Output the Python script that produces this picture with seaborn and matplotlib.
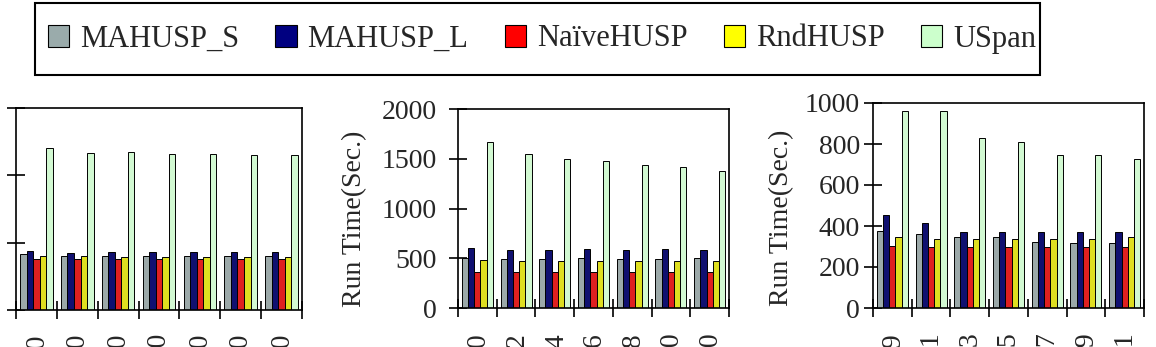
import numpy as np
import pandas as pd
import matplotlib
matplotlib.use("Agg")
import matplotlib.pyplot as plt
import seaborn as sns
from matplotlib.patches import Patch, Rectangle

sns.set_style("white")
plt.rcParams["font.family"] = ["Liberation Serif", "DejaVu Serif"]

# Datos
algos = ["MAHUSP_S", "MAHUSP_L", "NaïveHUSP", "RndHUSP", "USpan"]
colors = ["#9aabab", "#000080", "#ff0000", "#ffff00", "#ccffcc"]

labels_1 = ["100", "200", "300", "400", "500", "600", "700"]
labels_2 = ["10", "12", "14", "16", "18", "20", "30"]
labels_3 = ["19", "21", "23", "25", "27", "29", "31"]

p1_mahusp_s = [416, 404, 404, 404, 404, 404, 404]
p1_mahusp_l = [439, 426, 431, 431, 431, 431, 431]
p1_naive = [377, 382, 377, 377, 377, 377, 377]
p1_rnd = [402, 404, 397, 397, 397, 392, 392]
p1_uspan = [1202, 1165, 1173, 1158, 1158, 1153, 1153]

p2_mahusp_s = [502, 496, 496, 502, 496, 496, 502]
p2_mahusp_l = [603, 586, 586, 596, 586, 596, 586]
p2_naive = [362, 362, 362, 362, 362, 362, 362]
p2_rnd = [479, 469, 469, 469, 469, 469, 469]
p2_uspan = [1672, 1551, 1497, 1474, 1437, 1417, 1373]

p3_mahusp_s = [376, 360, 347, 347, 324, 319, 316]
p3_mahusp_l = [452, 413, 373, 373, 373, 373, 373]
p3_naive = [303, 300, 300, 300, 300, 300, 300]
p3_rnd = [348, 335, 339, 339, 339, 339, 344]
p3_uspan = [963, 959, 828, 809, 746, 746, 728]


def to_long(labels, series):
    rows = []
    for algo, vals in zip(algos, series):
        for lab, v in zip(labels, vals):
            rows.append({"param": lab, "algo": algo, "time": v})
    return pd.DataFrame(rows)


panels = [
    (to_long(labels_1, [p1_mahusp_s, p1_mahusp_l, p1_naive, p1_rnd, p1_uspan]),
     labels_1, 1500, 500, (16, 302, 108, 310), 8.5, (-0.34, 0.45)),
    (to_long(labels_2, [p2_mahusp_s, p2_mahusp_l, p2_naive, p2_rnd, p2_uspan]),
     labels_2, 2000, 500, (458, 729, 109, 308), 8.5, (-0.335, 0.45)),
    (to_long(labels_3, [p3_mahusp_s, p3_mahusp_l, p3_naive, p3_rnd, p3_uspan]),
     labels_3, 1000, 200, (873, 1144, 103, 308), 3.0, (-0.291, 0.44)),
]

W, H = 1156, 347
fig = plt.figure(figsize=(W / 100, H / 100), dpi=100)

for data, labels, ymax, ystep, (x0, x1, top, bottom), ypad, lab_xy in panels:
    ax = fig.add_axes([x0 / W, 1 - bottom / H, (x1 - x0) / W, (bottom - top) / H])
    sns.barplot(data=data, x="param", y="time", hue="algo", hue_order=algos,
                palette=colors, edgecolor="black", linewidth=0.7,
                width=0.8, legend=False, ax=ax)
    ax.set_xlim(-0.5, 6.5)
    ax.set_ylim(0, ymax)
    ax.set_yticks(np.arange(0, ymax + 1, ystep))
    ax.set_xticks(np.arange(-0.5, 7, 1))
    ax.set_xticklabels([])
    ax.set_xticks(range(7), labels, minor=True)
    ax.tick_params(axis="x", which="major", direction="inout", length=13,
                   width=1.2, color="black", bottom=True)
    ax.tick_params(axis="x", which="minor", length=0, pad=16.5,
                   labelrotation=90, labelsize=20)
    ax.tick_params(axis="y", direction="inout", length=13, width=1.2,
                   color="black", pad=ypad, labelsize=20, left=True)
    ax.set_xlabel("")
    ax.set_ylabel("Run Time(Sec.)", fontsize=20)
    ax.yaxis.set_label_coords(*lab_xy)
    for s in ax.spines.values():
        s.set_visible(True)
        s.set_color("black")
        s.set_linewidth(1.2)

# Leyenda común
handles = [Patch(facecolor=c, edgecolor="black", linewidth=0.8) for c in colors]
fig.legend(handles, algos, loc="center", bbox_to_anchor=(542 / W, 1 - 39 / H),
           ncol=5, frameon=False, fontsize=22, handlelength=0.7,
           handleheight=0.7, handletextpad=0.35, columnspacing=1.19)
fig.patches.append(Rectangle((35 / W, 1 - 75 / H), 1005 / W, 72 / H,
                             transform=fig.transFigure, fill=False,
                             edgecolor="black", linewidth=1.5))

fig.savefig("out.png", dpi=100)
